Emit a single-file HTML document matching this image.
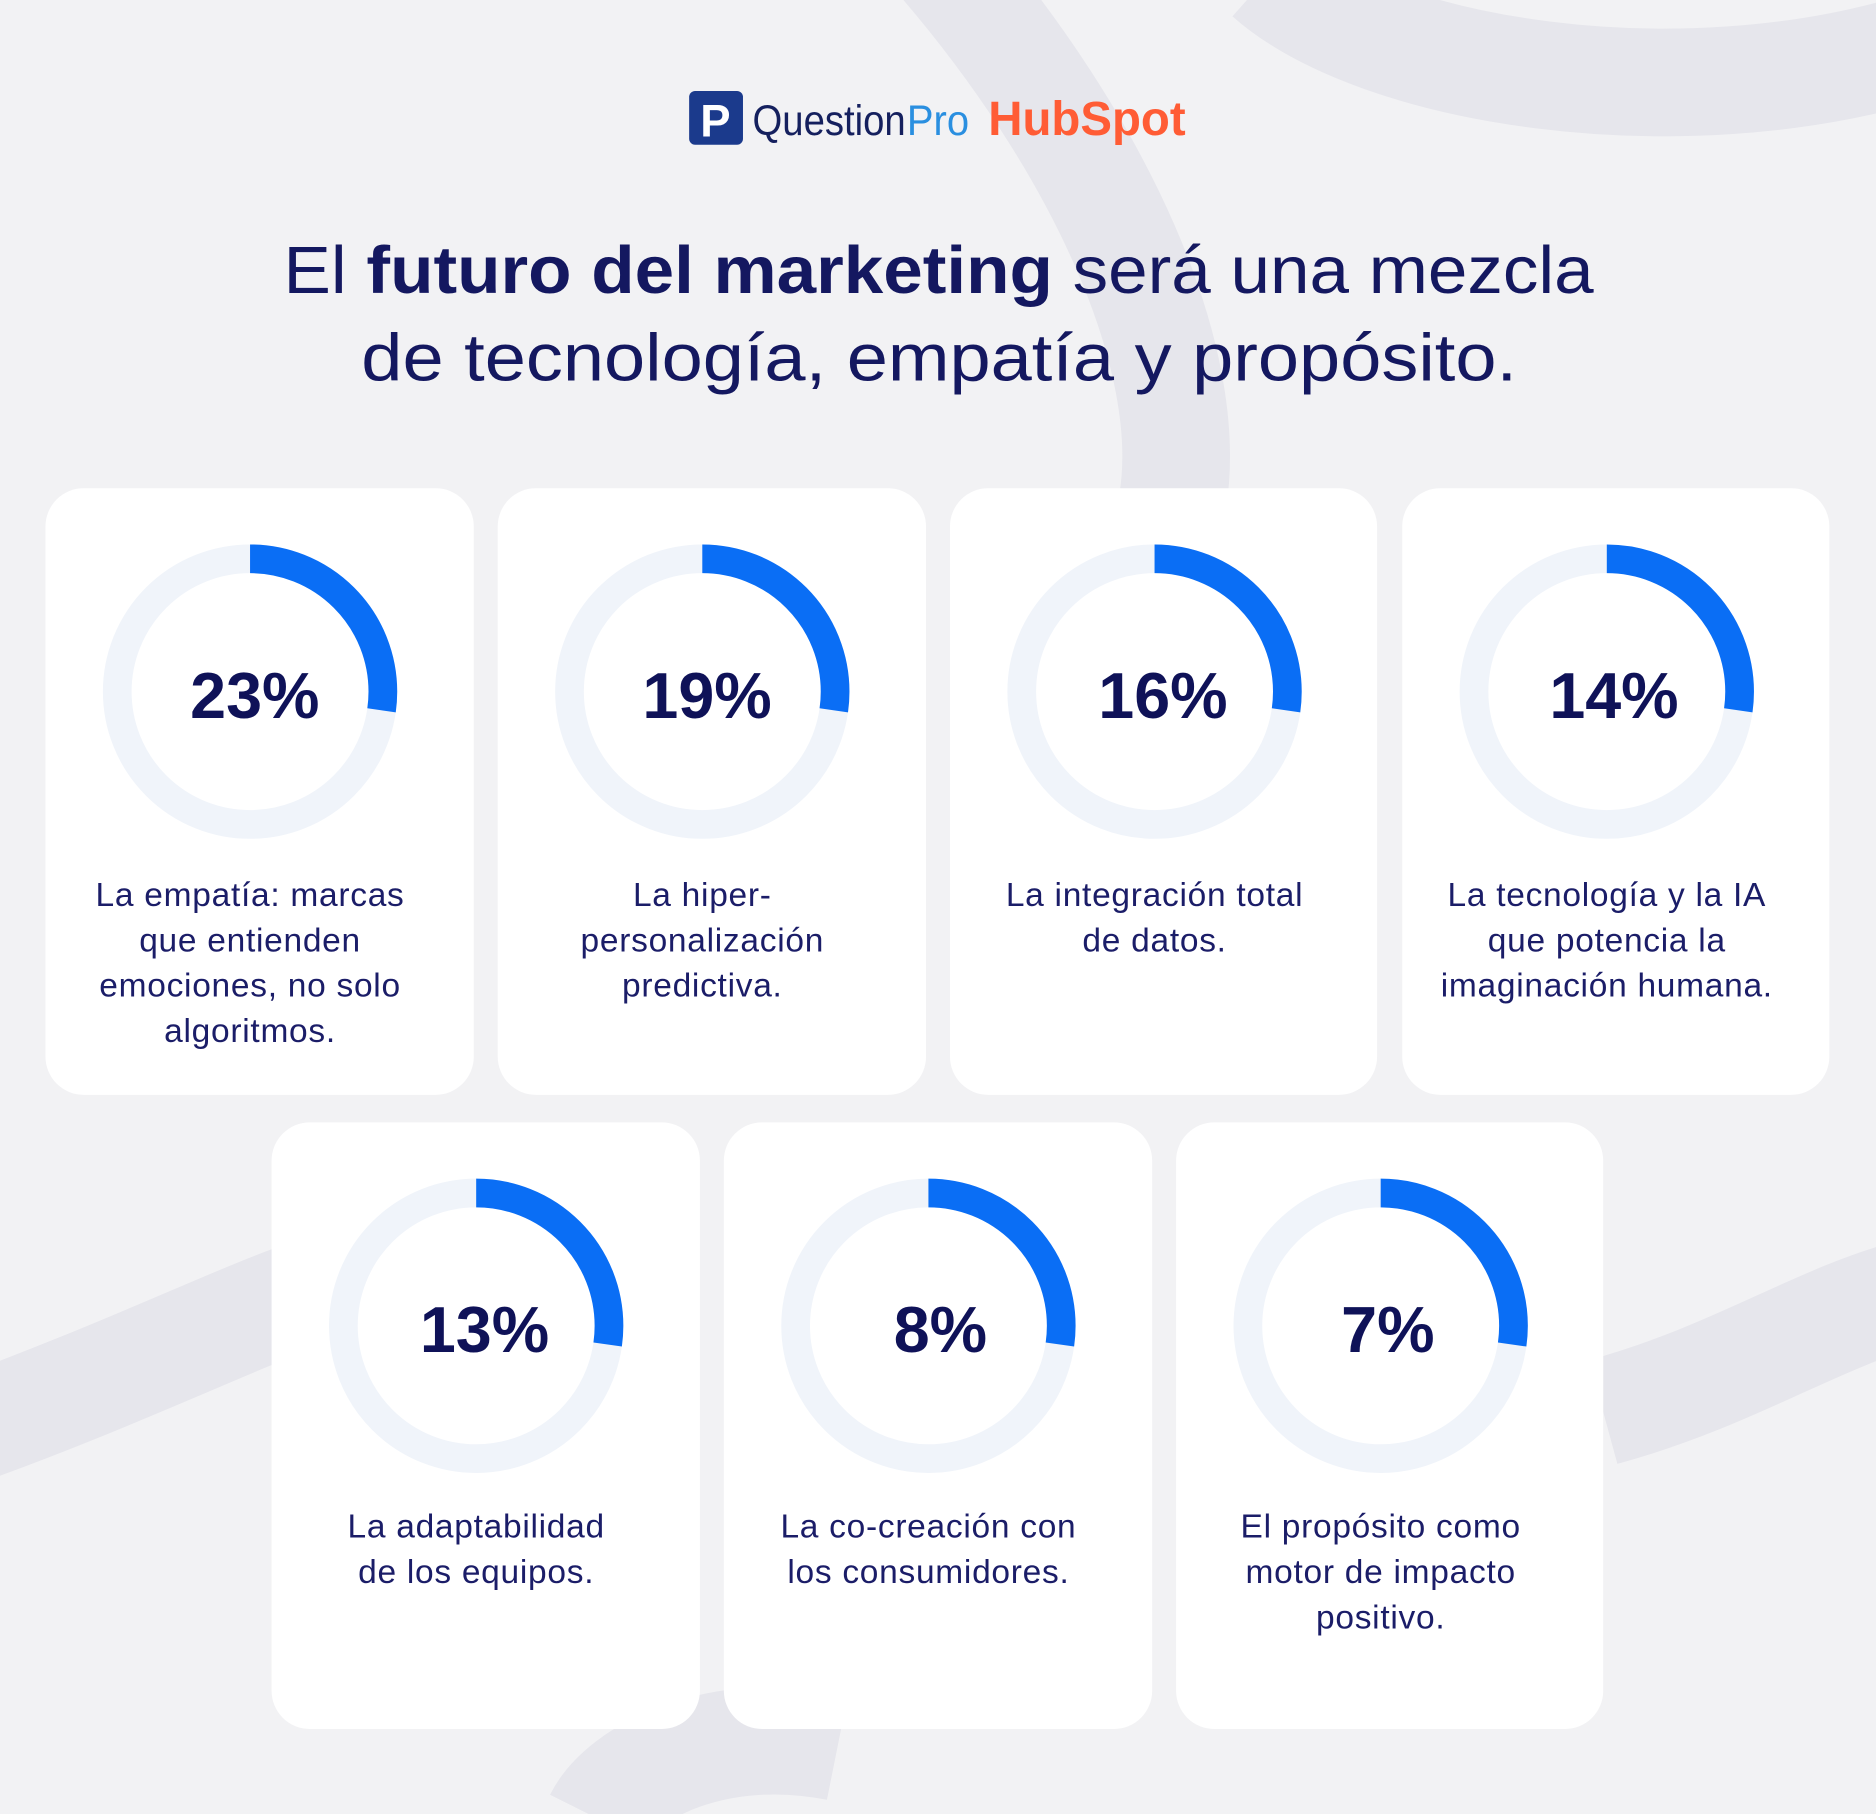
<!DOCTYPE html>
<html><head><meta charset="utf-8"><style>
html,body{margin:0;padding:0;background:#f2f2f4;}
svg{display:block}
text{font-family:"Liberation Sans","DejaVu Sans",sans-serif}
</style></head><body>
<svg width="1876" height="1814" viewBox="0 0 1568 1516" preserveAspectRatio="none" xmlns="http://www.w3.org/2000/svg">
<rect width="1568" height="1516" fill="#f2f2f4"/>
<g fill="none" stroke="#e6e6ec" stroke-width="90">
<path d="M780 -40 C 920 120 1000 300 980 420"/>
<path d="M1060 -20 C 1150 60 1400 100 1600 40"/>
<path d="M-40 1200 C 100 1150 200 1100 260 1080"/>
<path d="M1340 1180 C 1450 1150 1520 1100 1600 1080"/>
<path d="M500 1520 C 520 1480 600 1440 700 1460"/>
</g>
<rect x="576" y="76" width="45" height="45" rx="5" fill="#1b3a8c"/>
<text x="598" y="114" font-size="38" font-weight="bold" fill="#fff" text-anchor="middle">P</text>
<text x="629" y="113" font-size="36" fill="#15205e" textLength="128" lengthAdjust="spacingAndGlyphs">Question</text>
<text x="758" y="113" font-size="36" fill="#2a8fe0" textLength="52" lengthAdjust="spacingAndGlyphs">Pro</text>
<text x="826" y="113" font-size="40" font-weight="bold" fill="#ff5c35" textLength="165" lengthAdjust="spacingAndGlyphs">HubSpot</text>
<text x="237" y="245" font-size="56" fill="#141860" textLength="1095" lengthAdjust="spacingAndGlyphs">El <tspan font-weight="bold">futuro del marketing</tspan> será una mezcla</text>
<text x="302" y="318" font-size="56" fill="#141860" textLength="966" lengthAdjust="spacingAndGlyphs">de tecnología, empatía y propósito.</text>
<g>
<rect x="38" y="408" width="358" height="507" rx="32" fill="#fff"/>
<rect x="416" y="408" width="358" height="507" rx="32" fill="#fff"/>
<rect x="794" y="408" width="357" height="507" rx="32" fill="#fff"/>
<rect x="1172" y="408" width="357" height="507" rx="32" fill="#fff"/>
<rect x="227" y="938" width="358" height="507" rx="32" fill="#fff"/>
<rect x="605" y="938" width="358" height="507" rx="32" fill="#fff"/>
<rect x="983" y="938" width="357" height="507" rx="32" fill="#fff"/>
</g>
<g fill="none" stroke-width="24">
<circle cx="209" cy="578" r="111" stroke="#f0f4fa"/>
<circle cx="587" cy="578" r="111" stroke="#f0f4fa"/>
<circle cx="965" cy="578" r="111" stroke="#f0f4fa"/>
<circle cx="1343" cy="578" r="111" stroke="#f0f4fa"/>
<circle cx="398" cy="1108" r="111" stroke="#f0f4fa"/>
<circle cx="776" cy="1108" r="111" stroke="#f0f4fa"/>
<circle cx="1154" cy="1108" r="111" stroke="#f0f4fa"/>
<g stroke="#0a6ef5" stroke-dasharray="190 600">
<circle cx="209" cy="578" r="111" transform="rotate(-90 209 578)"/>
<circle cx="587" cy="578" r="111" transform="rotate(-90 587 578)"/>
<circle cx="965" cy="578" r="111" transform="rotate(-90 965 578)"/>
<circle cx="1343" cy="578" r="111" transform="rotate(-90 1343 578)"/>
<circle cx="398" cy="1108" r="111" transform="rotate(-90 398 1108)"/>
<circle cx="776" cy="1108" r="111" transform="rotate(-90 776 1108)"/>
<circle cx="1154" cy="1108" r="111" transform="rotate(-90 1154 1108)"/>
</g>
</g>
<g font-size="54" font-weight="bold" fill="#0f1258" text-anchor="middle">
<text x="213" y="600">23%</text>
<text x="591" y="600">19%</text>
<text x="972" y="600">16%</text>
<text x="1349" y="600">14%</text>
<text x="405" y="1130">13%</text>
<text x="786" y="1130">8%</text>
<text x="1160" y="1130">7%</text>
</g>
<g font-size="28" letter-spacing="0.6" fill="#1b1d68" text-anchor="middle">
<text x="209" y="757">La empatía: marcas</text>
<text x="209" y="795">que entienden</text>
<text x="209" y="833">emociones, no solo</text>
<text x="209" y="871">algoritmos.</text>
<text x="587" y="757">La hiper-</text>
<text x="587" y="795">personalización</text>
<text x="587" y="833">predictiva.</text>
<text x="965" y="757">La integración total</text>
<text x="965" y="795">de datos.</text>
<text x="1343" y="757">La tecnología y la IA</text>
<text x="1343" y="795">que potencia la</text>
<text x="1343" y="833">imaginación humana.</text>
<text x="398" y="1285">La adaptabilidad</text>
<text x="398" y="1323">de los equipos.</text>
<text x="776" y="1285">La co-creación con</text>
<text x="776" y="1323">los consumidores.</text>
<text x="1154" y="1285">El propósito como</text>
<text x="1154" y="1323">motor de impacto</text>
<text x="1154" y="1361">positivo.</text>
</g>
</svg>
</body></html>
